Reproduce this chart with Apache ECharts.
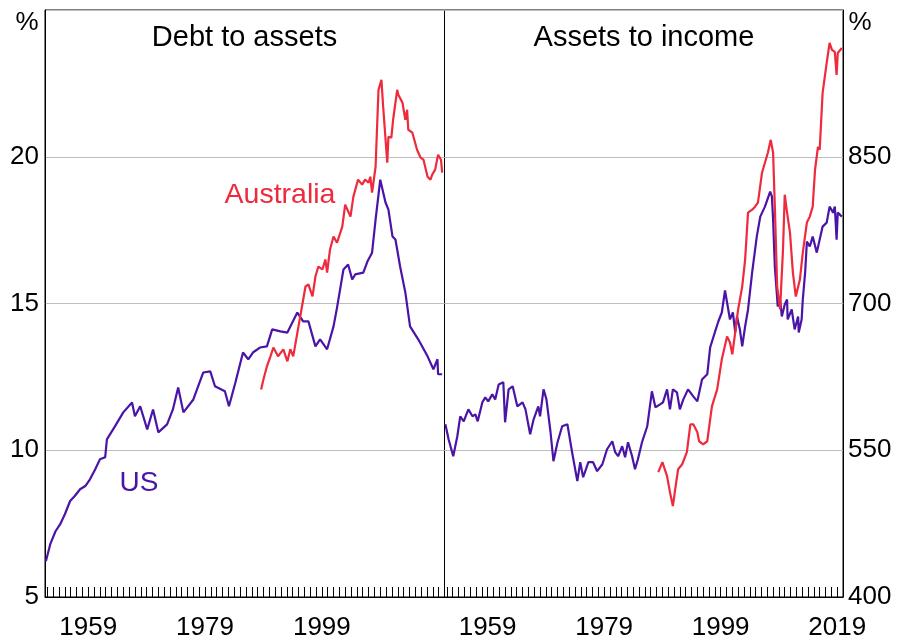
<!DOCTYPE html>
<html>
<head>
<meta charset="utf-8">
<script src="https://cdn.jsdelivr.net/npm/echarts@6/dist/echarts.min.js"></script>
<style>html,body{margin:0;padding:0;background:#fff}#c{width:899px;height:644px}</style>
</head>
<body>
<div id="c"></div>
<script>
// ---- Data ----
const yearTicks = [];
for (let y = 1952; y <= 2019; y++) yearTicks.push(y);
const leftYearLabels = [1959, 1979, 1999];
const rightYearLabels = [1959, 1979, 1999, 2019];
const leftTicks = [5, 10, 15, 20];
const rightTicks = [400, 550, 700, 850];

// Debt to assets — US
const usDebtYears = [1951.75,1952.5,1953.4,1954.2,1955.0,1955.9,1956.7,1957.6,1958.5,1959.3,1960.2,1961.0,1961.9,1962.2,1963.6,1965.0,1966.5,1967.0,1967.9,1969.1,1970.1,1971.0,1972.5,1973.5,1974.4,1975.3,1977.0,1978.7,1979.9,1980.7,1982.4,1983.1,1984.2,1985.5,1986.4,1987.2,1988.4,1989.6,1990.5,1991.9,1993.1,1994.8,1995.8,1996.7,1997.9,1998.7,1999.9,2001.0,2001.6,2002.7,2003.5,2004.2,2004.7,2006.1,2006.8,2007.6,2008.2,2009.0,2009.9,2010.4,2011.1,2011.6,2012.4,2013.3,2014.1,2015.5,2017.1,2018.1,2018.8,2018.9,2019.6];
const usDebtValues = [6.22,6.80,7.24,7.48,7.82,8.27,8.44,8.67,8.78,9.01,9.35,9.69,9.76,10.37,10.82,11.29,11.63,11.16,11.50,10.71,11.39,10.61,10.88,11.39,12.14,11.29,11.73,12.65,12.69,12.18,12.01,11.50,12.31,13.33,13.10,13.33,13.50,13.54,14.12,14.05,14.01,14.69,14.39,14.39,13.54,13.78,13.44,14.22,14.86,16.16,16.33,15.82,15.99,16.05,16.43,16.73,17.86,19.22,18.44,18.20,17.28,17.18,16.26,15.37,14.22,13.78,13.20,12.76,13.10,12.59,12.59];

// Debt to assets — Australia
const auDebtYears = [1988.6,1989.0,1989.6,1990.2,1990.7,1991.5,1992.4,1993.1,1993.6,1994.1,1995.0,1995.6,1996.2,1996.7,1997.4,1997.9,1998.4,1999.1,1999.6,1999.9,2000.4,2001.0,2001.6,2002.5,2003.0,2003.9,2004.4,2005.2,2005.9,2006.4,2007.0,2007.3,2007.6,2008.2,2008.7,2009.2,2009.5,2010.2,2010.4,2010.9,2011.2,2011.9,2012.1,2012.8,2013.3,2013.6,2013.8,2014.5,2015.3,2015.9,2016.4,2017.1,2017.6,2017.9,2018.4,2018.9,2019.4,2019.6];
const auDebtValues = [12.07,12.41,12.86,13.20,13.50,13.20,13.44,13.03,13.44,13.20,14.22,14.90,15.58,15.65,15.24,15.92,16.26,16.16,16.50,16.05,16.84,17.28,17.07,17.62,18.37,17.96,18.64,19.22,19.05,19.22,19.12,19.32,18.78,19.66,22.28,22.62,21.70,19.80,20.68,20.65,21.26,22.28,22.11,21.84,21.26,21.60,20.92,20.82,20.24,19.97,19.90,19.32,19.22,19.39,19.56,20.07,19.90,19.46];

// Assets to income — US
const usAssetYears = [1951.75,1952.3,1953.1,1953.8,1954.3,1954.9,1955.7,1956.4,1956.9,1957.3,1958.1,1958.6,1959.1,1959.8,1960.3,1960.9,1961.7,1962.0,1962.6,1963.3,1964.1,1965.0,1965.5,1966.3,1966.9,1967.7,1968.0,1968.6,1969.1,1969.8,1970.3,1971.0,1971.8,1972.7,1973.5,1974.4,1974.9,1975.4,1976.3,1977.1,1977.8,1978.7,1979.5,1980.4,1980.9,1981.4,1982.1,1982.6,1983.1,1983.8,1984.3,1984.8,1985.5,1986.4,1987.2,1987.8,1988.6,1989.1,1989.8,1990.3,1990.8,1991.5,1992.0,1992.6,1993.4,1994.3,1995.0,1995.8,1996.7,1997.2,1998.0,1998.6,1999.2,1999.75,2000.1,2000.6,2001.1,2001.5,2001.8,2002.3,2002.7,2003.2,2003.7,2004.4,2005.2,2005.8,2006.6,2007.5,2007.8,2008.0,2008.3,2008.8,2009.2,2009.5,2010.0,2010.4,2010.5,2011.2,2011.7,2012.3,2012.4,2012.9,2013.1,2013.5,2013.8,2014.3,2014.8,2015.5,2016.0,2016.5,2017.2,2017.7,2018.3,2018.6,2018.9,2019.1,2019.8];
const usAssetValues = [576.5,561.2,543.9,564.3,584.7,579.6,591.8,584.7,586.7,579.6,599.0,604.1,600.0,607.1,602.0,617.3,619.4,578.6,612.2,615.3,594.9,599.0,591.8,566.3,581.6,594.9,584.7,612.2,602.0,568.4,538.8,558.2,574.5,576.5,548.0,518.4,537.8,522.4,537.8,537.8,528.6,535.7,551.0,559.2,548.0,543.9,554.1,542.9,558.2,543.9,530.6,540.8,558.2,574.5,610.2,593.9,596.9,599.0,612.2,591.8,612.2,609.2,591.8,602.0,612.2,605.1,600.0,622.4,627.6,655.1,670.4,681.6,690.8,713.3,701.0,683.7,690.8,670.4,686.7,673.5,656.1,676.5,693.9,731.6,768.4,788.8,799.0,814.3,809.2,785.7,737.8,696.9,704.1,686.7,699.0,704.1,683.7,693.9,673.5,686.7,670.4,683.7,704.1,731.6,763.3,758.2,768.4,752.0,765.3,778.6,782.7,799.0,792.9,799.0,765.3,792.9,788.8];

// Assets to income — Australia
const auAssetYears = [1988.3,1989.0,1989.8,1990.3,1990.8,1991.2,1991.7,1992.4,1993.2,1993.8,1994.3,1995.0,1995.3,1996.0,1996.7,1997.2,1997.5,1998.4,1999.2,2000.1,2000.6,2001.0,2001.5,2002.0,2002.7,2003.2,2003.7,2004.4,2004.9,2005.4,2006.1,2006.6,2007.1,2007.6,2008.0,2008.3,2008.7,2009.2,2009.7,2010.0,2010.4,2010.9,2011.4,2011.9,2012.6,2013.1,2013.8,2014.3,2014.8,2015.2,2015.7,2016.0,2016.5,2017.2,2017.7,2018.1,2018.6,2018.9,2019.1,2019.8];
const auAssetValues = [527.6,537.8,523.5,507.1,492.9,510.2,530.6,535.7,548.0,576.5,576.5,568.4,559.2,556.1,559.2,581.6,594.9,612.2,642.9,666.3,660.2,648.0,670.4,693.9,717.3,744.9,792.9,795.9,799.0,803.1,833.7,843.9,854.1,867.3,854.1,799.0,717.3,693.9,755.1,811.2,792.9,772.4,731.6,707.1,724.5,752.0,782.7,788.8,799.0,836.7,860.2,857.1,915.3,945.9,966.3,959.2,957.1,933.7,956.1,961.2];

const zip = (xs, ys) => xs.map((x, i) => [x, ys[i]]);

// ---- Styles ----
const FONT = "'Liberation Sans', Arial, Helvetica, sans-serif";
const RED = '#EE2A3C';
const PURPLE = '#4A14A6';
const FS = 26;
const LW = 2.2;

const xAxisBase = (gridIndex, labels) => ({
  type: 'value', gridIndex, min: 1951.6, max: 2020,
  axisLine: { show: true, onZero: false, lineStyle: { color: '#000', width: 1 } },
  axisTick: { show: true, inside: true, length: 10, customValues: yearTicks, lineStyle: { color: '#000', width: 1 } },
  axisLabel: { show: true, customValues: labels, margin: 18, fontSize: FS, color: '#000', fontFamily: FONT, formatter: v => String(Math.round(v)) },
  splitLine: { show: false }
});

const option = {
  animation: false,
  backgroundColor: '#fff',
  grid: [
    { left: 45, top: 10, width: 399.5, bottom: 47, show: true, borderColor: '#000', borderWidth: 1, containLabel: false },
    { left: 444.5, top: 10, right: 56, bottom: 47, show: true, borderColor: '#000', borderWidth: 1, containLabel: false }
  ],
  xAxis: [ xAxisBase(0, leftYearLabels), xAxisBase(1, rightYearLabels) ],
  yAxis: [
    { type: 'value', gridIndex: 0, min: 5, max: 25, interval: 5, position: 'left',
      axisLine: { show: true, lineStyle: { color: '#000' } }, axisTick: { show: false },
      axisLabel: { margin: 6, fontSize: FS, color: '#000', fontFamily: FONT, formatter: v => leftTicks.includes(v) ? String(v) : '' },
      splitLine: { show: true, lineStyle: { color: '#BDBDBD', width: 1 } } },
    { type: 'value', gridIndex: 1, min: 400, max: 1000, interval: 150, position: 'right',
      axisLine: { show: true, lineStyle: { color: '#000' } }, axisTick: { show: false },
      axisLabel: { margin: 5, fontSize: FS, color: '#000', fontFamily: FONT, formatter: v => rightTicks.includes(v) ? String(v) : '' },
      splitLine: { show: true, lineStyle: { color: '#BDBDBD', width: 1 } } }
  ],
  series: [
    { name: 'US debt', type: 'line', xAxisIndex: 0, yAxisIndex: 0, data: zip(usDebtYears, usDebtValues), showSymbol: false, symbol: 'none', lineStyle: { color: PURPLE, width: LW }, z: 3 },
    { name: 'AU debt', type: 'line', xAxisIndex: 0, yAxisIndex: 0, data: zip(auDebtYears, auDebtValues), showSymbol: false, symbol: 'none', lineStyle: { color: RED, width: LW }, z: 4 },
    { name: 'US assets', type: 'line', xAxisIndex: 1, yAxisIndex: 1, data: zip(usAssetYears, usAssetValues), showSymbol: false, symbol: 'none', lineStyle: { color: PURPLE, width: LW }, z: 3 },
    { name: 'AU assets', type: 'line', xAxisIndex: 1, yAxisIndex: 1, data: zip(auAssetYears, auAssetValues), showSymbol: false, symbol: 'none', lineStyle: { color: RED, width: LW }, z: 4 }
  ],
  graphic: [
    { type: 'text', x: 244.5, y: 38, style: { text: 'Debt to assets', font: `29px ${FONT}`, fill: '#000', align: 'center', verticalAlign: 'middle' } },
    { type: 'text', x: 644, y: 38, style: { text: 'Assets to income', font: `29px ${FONT}`, fill: '#000', align: 'center', verticalAlign: 'middle' } },
    { type: 'text', x: 27, y: 23, style: { text: '%', font: `${FS}px ${FONT}`, fill: '#000', align: 'center', verticalAlign: 'middle' } },
    { type: 'text', x: 860, y: 23, style: { text: '%', font: `${FS}px ${FONT}`, fill: '#000', align: 'center', verticalAlign: 'middle' } },
    { type: 'text', x: 280, y: 195, style: { text: 'Australia', font: `28.5px ${FONT}`, fill: RED, align: 'center', verticalAlign: 'middle' } },
    { type: 'text', x: 139, y: 483, style: { text: 'US', font: `28px ${FONT}`, fill: PURPLE, align: 'center', verticalAlign: 'middle' } }
  ]
};

const chart = echarts.init(document.getElementById('c'), null, { renderer: 'canvas' });
chart.setOption(option);
</script>
</body>
</html>
